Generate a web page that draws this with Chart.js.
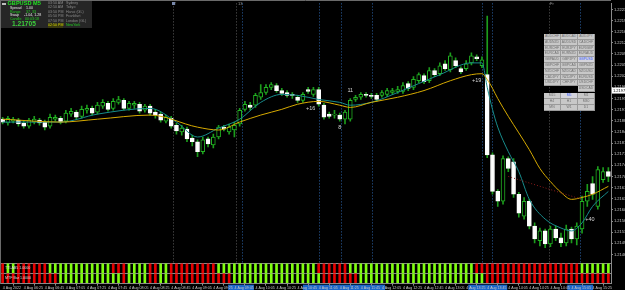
<!DOCTYPE html>
<html>
<head>
<meta charset="utf-8">
<script src="https://cdn.jsdelivr.net/npm/chart.js@4/dist/chart.umd.min.js"></script>
<style>
html,body{margin:0;padding:0;background:#000;overflow:hidden;}
#wrap{position:relative;width:625px;height:290px;overflow:hidden;}
#c{position:absolute;left:0;top:0;}
.t{position:absolute;font-family:"Liberation Sans",Arial,sans-serif;white-space:nowrap;line-height:1;}
.cell{position:absolute;width:16px;height:4.8px;background:#c8c8c8;border-right:1px solid #9a9a9a;border-bottom:1px solid #9a9a9a;font-family:"Liberation Sans",Arial,sans-serif;font-size:3.4px;color:#6e6e6e;text-align:center;line-height:4.8px;white-space:nowrap;overflow:hidden;}
</style>
</head>
<body>
<div id="wrap">
<canvas id="c" width="625" height="290"></canvas>
</div>
<script>
// ---------- DATA ----------
const opens = [
1.21885,1.21873,1.21879,1.21882,1.21873,1.21863,1.21876,1.21882,1.21876,1.21863,
1.21885,1.21888,1.21879,1.21901,1.21907,1.21894,1.21913,1.21919,1.21907,1.21926,
1.21935,1.21919,1.21938,1.21944,1.21919,1.21929,1.21932,1.21913,1.21926,1.21907,
1.21901,1.21879,1.21888,1.21866,1.21845,1.21854,1.21826,1.21814,1.21783,1.21823,
1.21804,1.21829,1.21860,1.21845,1.21851,1.21870,1.21916,1.21929,1.21929,1.21954,
1.21969,1.21985,1.21991,1.21975,1.21969,1.21963,1.21954,1.21944,1.21978,1.21963,
1.21978,1.21929,1.21901,1.21898,1.21898,1.21885,1.21885,1.21947,1.21954,1.21963,
1.21960,1.21960,1.21960,1.21963,1.21969,1.21972,1.21972,1.21997,1.21985,1.22006,
1.22022,1.22006,1.22038,1.22028,1.22059,1.22041,1.22069,1.22044,1.22044,1.22062,
1.22081,1.22053,1.22025,1.21773,1.21658,1.21627,1.21761,1.21751,1.21649,1.21580,
1.21627,1.21549,1.21503,1.21534,1.21493,1.21540,1.21512,1.21496,1.21540,1.21509,
1.21540,1.21627,1.21683,1.21611,1.21695,1.21720];
const highs = [
1.21891,1.21894,1.21891,1.21888,1.21879,1.21888,1.21894,1.21888,1.21882,1.21901,
1.21898,1.21894,1.21913,1.21919,1.21913,1.21926,1.21929,1.21926,1.21938,1.21947,
1.21941,1.21950,1.21957,1.21950,1.21941,1.21941,1.21938,1.21932,1.21932,1.21916,
1.21907,1.21898,1.21894,1.21873,1.21866,1.21860,1.21835,1.21820,1.21829,1.21829,
1.21838,1.21866,1.21866,1.21870,1.21876,1.21919,1.21941,1.21938,1.21966,1.21994,
1.21994,1.22000,1.21997,1.21982,1.21975,1.21969,1.21960,1.21969,1.21985,1.21985,
1.21985,1.21935,1.21907,1.21913,1.21904,1.21913,1.21950,1.21960,1.21969,1.21969,
1.21966,1.21966,1.21975,1.21982,1.21982,1.21988,1.22000,1.22003,1.22019,1.22031,
1.22028,1.22047,1.22044,1.22062,1.22069,1.22094,1.22078,1.22050,1.22069,1.22094,
1.22087,1.22081,1.22209,1.21779,1.21664,1.21770,1.21767,1.21761,1.21655,1.21639,
1.21633,1.21559,1.21543,1.21540,1.21549,1.21549,1.21527,1.21552,1.21546,1.21559,
1.21643,1.21680,1.21705,1.21736,1.21733,1.21733];
const lows = [
1.21870,1.21866,1.21873,1.21863,1.21857,1.21857,1.21870,1.21866,1.21851,1.21857,
1.21879,1.21870,1.21873,1.21894,1.21885,1.21888,1.21904,1.21898,1.21901,1.21919,
1.21910,1.21913,1.21932,1.21913,1.21913,1.21919,1.21904,1.21907,1.21898,1.21888,
1.21876,1.21873,1.21857,1.21838,1.21835,1.21814,1.21801,1.21767,1.21776,1.21798,
1.21795,1.21823,1.21848,1.21838,1.21829,1.21863,1.21910,1.21913,1.21922,1.21947,
1.21963,1.21978,1.21969,1.21960,1.21954,1.21950,1.21938,1.21938,1.21966,1.21957,
1.21926,1.21885,1.21888,1.21888,1.21879,1.21870,1.21879,1.21941,1.21947,1.21954,
1.21950,1.21941,1.21954,1.21957,1.21963,1.21966,1.21966,1.21975,1.21978,1.22000,
1.21997,1.22000,1.22019,1.22022,1.22038,1.22034,1.22047,1.22028,1.22038,1.22056,
1.22069,1.22047,1.21764,1.21649,1.21611,1.21618,1.21720,1.21639,1.21577,1.21571,
1.21540,1.21496,1.21487,1.21481,1.21484,1.21503,1.21484,1.21487,1.21496,1.21490,
1.21527,1.21611,1.21633,1.21602,1.21686,1.21689];
const closes = [
1.21876,1.21888,1.21885,1.21870,1.21863,1.21882,1.21885,1.21873,1.21860,1.21891,
1.21891,1.21876,1.21904,1.21910,1.21891,1.21916,1.21919,1.21904,1.21929,1.21938,
1.21916,1.21941,1.21947,1.21919,1.21935,1.21935,1.21910,1.21926,1.21904,1.21898,
1.21882,1.21891,1.21863,1.21848,1.21857,1.21823,1.21814,1.21783,1.21820,1.21807,
1.21829,1.21860,1.21854,1.21860,1.21866,1.21913,1.21932,1.21922,1.21960,1.21969,
1.21985,1.21994,1.21975,1.21966,1.21960,1.21960,1.21944,1.21963,1.21972,1.21978,
1.21932,1.21891,1.21894,1.21901,1.21885,1.21907,1.21944,1.21954,1.21963,1.21960,
1.21957,1.21947,1.21969,1.21975,1.21975,1.21978,1.21991,1.21982,1.22010,1.22025,
1.22003,1.22038,1.22025,1.22053,1.22044,1.22084,1.22053,1.22034,1.22059,1.22084,
1.22075,1.22072,1.21773,1.21658,1.21627,1.21761,1.21730,1.21649,1.21590,1.21627,
1.21549,1.21509,1.21534,1.21493,1.21540,1.21512,1.21496,1.21540,1.21509,1.21549,
1.21627,1.21658,1.21649,1.21727,1.21720,1.21705];

// fast (teal) and slow (yellow) moving averages, read at sampled candles
const tealIdx = [0,11,18,28,33,37,41,45,49,53,56,60,64,66,70,75,83,89,91,92,93,94,96,98,100,103,106,108,110,112,115];
const tealVal = [1.21876,1.21876,1.21901,1.21919,1.21876,1.21829,1.21857,1.21885,1.21938,1.21963,
1.21960,1.21947,1.21938,1.21929,1.21938,1.21969,1.22025,1.22062,1.22062,1.21985,
1.21916,1.21860,1.21783,1.21720,1.21633,1.21571,1.21543,1.21534,1.21559,1.21611,1.21658];
const yellowIdx = [0,11,18,28,37,41,45,49,53,56,60,64,66,70,75,80,85,89,91,92,93,94,96,98,100,102,104,106,108,110,112,115];
const yellowVal = [1.21885,1.21876,1.21885,1.21898,1.21860,1.21851,1.21876,1.21898,1.21916,1.21932,
1.21941,1.21929,1.21922,1.21938,1.21954,1.21975,1.22006,1.22025,1.22028,1.22010,
1.21982,1.21950,1.21894,1.21842,1.21789,1.21730,1.21689,1.21655,1.21633,1.21639,1.21649,1.21674];
const trendIdx = [96,110];
const trendVal = [1.21705,1.21633];

// bottom indicator rows: 1 = green, 0 = red
const row1States = [0,1,1,0,0,0,0,0,0,1, 1,1,1,1,1,1,1,1,1,1, 1,0,0,0,1,1,1,1,0,0, 1,1,0,0,0,0,0,0,0,0,
 0,1,1,1,1,1,1,1,1,1, 1,1,1,1,1,1,1,1,1,1, 0,0,0,0,0,0,1,1,1,1, 1,1,1,1,1,1,1,1,1,1,
 1,1,1,1,1,1,1,1,1,1, 0,0,0,0,0,0,0,0,0,0, 0,0,0,0,0,0,0,0,0,0, 1,1,1,1,1,1];
const row2States = [0,0,0,0,0,0,0,0,0,0, 0,1,1,1,1,1,1,1,1,1, 1,1,1,0,1,1,1,1,0,0, 1,1,0,0,0,0,0,0,0,0,
 0,0,0,0,1,1,1,1,1,1, 1,1,1,1,1,1,1,1,1,1, 1,0,0,0,0,0,0,0,1,1, 1,1,1,1,1,1,1,1,1,1,
 1,1,1,1,1,1,1,1,1,1, 1,1,0,0,0,0,0,0,0,0, 0,0,0,0,0,0,0,0,0,0, 0,0,0,0,0,0];

const tickLabels = ["4 Aug 2022","4 Aug 06:25","4 Aug 06:45","4 Aug 07:05","4 Aug 07:25","4 Aug 07:45",
"4 Aug 08:05","4 Aug 08:25","4 Aug 08:45","4 Aug 09:05","4 Aug 09:25","4 Aug 09:45","4 Aug 10:05",
"4 Aug 10:25","4 Aug 10:45","4 Aug 11:05","4 Aug 11:25","4 Aug 11:45","4 Aug 12:05","4 Aug 12:25",
"4 Aug 12:45","4 Aug 13:05","4 Aug 13:25","4 Aug 13:45","4 Aug 14:05","4 Aug 14:25","4 Aug 14:45",
"4 Aug 15:05","4 Aug 15:25"];
const priceTicks = [1.22230,1.22195,1.22160,1.22125,1.22090,1.22055,1.22020,1.21985,1.21950,1.21915,
1.21880,1.21845,1.21810,1.21775,1.21740,1.21705,1.21670,1.21635,1.21600,1.21565,1.21530,1.21495,1.21460];
const highlightPrice = 1.21975;
const Y_MAX = 1.22249, Y_MIN = 1.21368;

const annoIdx = [58.5,66,64,90,111.5];
const annoVal = [1.21919,1.21975,1.21860,1.22006,1.21571];
const annoText = ['+16','11','8','+19','+40'];
const blueLines = [45.4,60.1,64.2,70.1,91.0,92.9,109.6];
const grayLines = [32.3,44.3,103.7];
const timeBands = [[42.8,47.7],[57.0,72.6],[88.4,95.8],[107.2,112.1]];
const topLabelIdx = [32.7,45.1,104.3];
const topLabelText = ['T','13','Fr'];
const rowNames = ['TTLAB5 1.0000','MTF Bar 1.0000'];

const symbols = [["AUDCHF","AUDCAD","AUDJPY"],["AUDNZD","AUDUSD","CADCHF"],["EURCHF","EURJPY","EURGBP"],
["EURCAD","EURNZD","EURAUD"],["GBPAUD","GBPJPY","GBPUSD"],["GBPCHF","GBPCAD","GBPNZD"],
["NZDCHF","NZDCAD","NZDUSD"],["CADJPY","NZDJPY","EURUSD"],["USDJPY","CHFJPY","USDCHF"],[null,null,"USDCAD"]];
const timeframes = [["M15","M5","M1"],["H4","H1","M30"],["MN","W1","D1"]];
const sessTimes = ["03:50 AM","02:50 AM","03:50 PM","05:50 PM","07:50 PM","02:50 PM"];
const sessNames = ["Sydney","Tokyo","Hanoi (GL)","Frankfurt","London (GL)","NewYork"];

// ---------- BUILD ----------
const N = opens.length;
const categories = [];
for (let i = 0; i < N; i++) {
  const m = 6 * 60 + 5 + 5 * i;
  categories.push(String(Math.floor(m / 60)).padStart(2, '0') + ':' + String(m % 60).padStart(2, '0'));
}
function sparse(idx, val) { const a = new Array(N).fill(null); idx.forEach((k, j) => a[k] = val[j]); return a; }

const GREEN = '#1c9c1c';
const ROW1 = [11, 20], ROW2 = [1, 10], SEP = [20.5, 10.5];
const FONT = '"Liberation Sans", Arial, sans-serif';

const decor = {
  id: 'decor',
  beforeDraw(chart) {
    const { ctx, chartArea: a, scales: { x } } = chart;
    ctx.save();
    ctx.fillStyle = '#000';
    ctx.fillRect(0, 0, chart.width, chart.height);
    ctx.fillStyle = '#1b66c9';
    timeBands.forEach(([s, e]) => {
      const x0 = x.getPixelForValue(s), x1 = x.getPixelForValue(e);
      ctx.fillRect(x0, a.bottom + 1, x1 - x0, chart.height - a.bottom - 1);
    });
    ctx.restore();
  },
  beforeDatasetsDraw(chart) {
    const { ctx, chartArea: a, scales: { x, y2 } } = chart;
    const yb = y2.getPixelForValue(SEP[0]);
    ctx.save();
    ctx.lineWidth = 1;
    ctx.setLineDash([1, 2]);
    const vl = (arr, col) => {
      ctx.strokeStyle = col;
      arr.forEach(v => {
        const px = Math.round(x.getPixelForValue(v)) + 0.5;
        ctx.beginPath(); ctx.moveTo(px, a.top); ctx.lineTo(px, yb); ctx.stroke();
      });
    };
    vl(grayLines, '#5c5c5c');
    vl(blueLines, '#2c62a6');
    ctx.setLineDash([]);
    ctx.strokeStyle = '#8a8a8a';
    SEP.forEach(v => {
      const py = Math.round(y2.getPixelForValue(v)) + 0.5;
      ctx.beginPath(); ctx.moveTo(a.left, py); ctx.lineTo(a.right, py); ctx.stroke();
    });
    ctx.restore();
  },
  afterDraw(chart) {
    const { ctx, chartArea: a, scales: { x, y, y2 } } = chart;
    ctx.save();
    ctx.strokeStyle = '#6a6a6a'; ctx.lineWidth = 1;
    ctx.beginPath(); ctx.moveTo(0, 0.5); ctx.lineTo(a.right, 0.5); ctx.stroke();
    ctx.beginPath(); ctx.moveTo(0.5, 0); ctx.lineTo(0.5, a.bottom); ctx.stroke();
    ctx.fillStyle = '#d4d4d4';
    ctx.font = '5.5px ' + FONT;
    ctx.textAlign = 'center'; ctx.textBaseline = 'middle';
    annoText.forEach((t, j) => ctx.fillText(t, x.getPixelForValue(annoIdx[j]), y.getPixelForValue(annoVal[j])));
    ctx.fillStyle = '#9a9a9a';
    ctx.font = '4px ' + FONT;
    topLabelText.forEach((t, j) => ctx.fillText(t, x.getPixelForValue(topLabelIdx[j]), 3.5));
    ctx.fillStyle = '#7888aa';
    const mx = Math.round(x.getPixelForValue(grayLines[0]));
    ctx.fillRect(mx - 1, 2, 3, 3);
    ctx.fillStyle = '#dcdcdc';
    ctx.font = '3.6px ' + FONT;
    ctx.textAlign = 'left';
    ctx.fillText(rowNames[0], 5, y2.getPixelForValue((ROW1[0] + ROW1[1]) / 2));
    ctx.fillText(rowNames[1], 5, y2.getPixelForValue((ROW2[0] + ROW2[1]) / 2));
    const py = y.getPixelForValue(highlightPrice);
    ctx.fillStyle = '#ffffff';
    ctx.fillRect(a.right + 1, py - 3, 14, 6);
    ctx.fillStyle = '#000';
    ctx.font = '4px ' + FONT;
    ctx.fillText(highlightPrice.toFixed(5), a.right + 2, py + 0.3);
    ctx.restore();
  }
};

const lineDs = (data, color, dash) => ({
  type: 'line', data, borderColor: color, borderWidth: 1, pointRadius: 0, spanGaps: true,
  cubicInterpolationMode: 'monotone', borderDash: dash || [], fill: false, order: 1, yAxisID: 'y'
});
const rowDs = (states, band) => ({
  type: 'bar', data: states.map(() => band), backgroundColor: states.map(s => s ? '#80ff10' : '#e80000'),
  barThickness: 2, grouped: false, borderWidth: 0, order: 6, yAxisID: 'y2'
});

new Chart(document.getElementById('c'), {
  data: {
    labels: categories,
    datasets: [
      rowDs(row1States, ROW1),
      rowDs(row2States, ROW2),
      { type: 'bar', data: lows.map((l, i) => [l, highs[i]]), backgroundColor: GREEN, barThickness: 1,
        grouped: false, borderWidth: 0, order: 5, yAxisID: 'y' },
      { type: 'bar', data: opens.map((o, i) => [o, closes[i]]),
        backgroundColor: opens.map((o, i) => closes[i] < o ? '#ffffff' : '#000000'),
        borderColor: opens.map((o, i) => closes[i] < o ? '#ffffff' : '#22b422'),
        borderWidth: 1, borderSkipped: false, barThickness: 4, grouped: false, order: 4, yAxisID: 'y' },
      lineDs(sparse(trendIdx, trendVal), '#8c1c1c', [1, 2]),
      lineDs(sparse(yellowIdx, yellowVal), '#d6aa00'),
      lineDs(sparse(tealIdx, tealVal), '#178c8c')
    ]
  },
  options: {
    responsive: false, animation: false, devicePixelRatio: 1, events: [],
    layout: { padding: 0 },
    plugins: { legend: { display: false }, tooltip: { enabled: false } },
    scales: {
      x: {
        type: 'category', offset: true,
        grid: { display: true, drawOnChartArea: false, drawTicks: true, tickLength: 2, color: '#8a8a8a' },
        border: { display: true, color: '#8a8a8a' },
        ticks: { autoSkip: false, maxRotation: 0, minRotation: 0, padding: 0, align: 'start',
          color: '#c8c8c8', font: { size: 3.6, family: FONT },
          callback: (v, i) => i % 4 === 0 ? tickLabels[i / 4] : null }
      },
      y: {
        position: 'right', min: Y_MIN, max: Y_MAX,
        grid: { display: true, drawOnChartArea: false, tickLength: 2, color: '#8a8a8a' },
        border: { display: true, color: '#8a8a8a' },
        ticks: { color: '#c8c8c8', font: { size: 4, family: FONT }, padding: 1, callback: v => v.toFixed(5) },
        afterBuildTicks: s => { s.ticks = priceTicks.map(v => ({ value: v })); },
        afterFit: s => { s.width = 14; }
      },
      y2: { display: false, min: 0, max: 283 }
    }
  },
  plugins: [decor]
});

// ---------- HTML overlays (panels) ----------
const wrap = document.getElementById('wrap');
function box(x, y, w, h, bg) { const d = document.createElement('div'); d.style.cssText = `position:absolute;left:${x}px;top:${y}px;width:${w}px;height:${h}px;background:${bg};`; wrap.appendChild(d); return d; }
function T(x, y, s, size, color, bold, bg) {
  const d = document.createElement('div'); d.className = 't';
  d.style.left = x + 'px'; d.style.top = y + 'px'; d.style.fontSize = size + 'px'; d.style.color = color;
  if (bold) d.style.fontWeight = 'bold'; if (bg) d.style.background = bg;
  d.textContent = s; wrap.appendChild(d); return d;
}
box(1, 1, 91, 27, '#262626');
box(2, 3, 4, 2, '#bdbdbd');
T(7.5, 1.2, 'GBPUSD M5', 5.6, '#22e022', true);
T(10, 7.4, 'Spread', 3.6, '#e6e6e6'); T(26, 7.4, '1.00', 3.6, '#e6e6e6');
T(10, 10.8, 'Range', 3.6, '#22d022'); T(26, 10.8, '37, 33', 3.6, '#22d022');
T(10, 14.2, 'Swap', 3.6, '#e6e6e6'); T(24, 14.2, '-1.04, 1.28', 3.6, '#e6e6e6');
T(10, 17.6, 'Candle', 3.6, '#22d022'); T(25, 17.6, '00:03:18', 3.6, '#22d022');
T(12, 20.6, closes[N - 1].toFixed(5), 6.6, '#3ccf3c', true);
sessTimes.forEach((t, j) => {
  const last = j === sessTimes.length - 1;
  T(48, 1.8 + j * 4.5, t, 3.6, last ? '#d8d800' : '#8c8c8c', false, last ? '#3a3a10' : null);
  T(66, 1.8 + j * 4.5, sessNames[j], 3.6, last ? '#22d022' : '#8c8c8c');
});
function grid(rows, top, active) {
  rows.forEach((r, ri) => r.forEach((s, ci) => {
    if (!s) return;
    const d = document.createElement('div'); d.className = 'cell';
    d.style.left = (544 + ci * 17) + 'px'; d.style.top = (top + ri * 5.8) + 'px';
    if (s === active) { d.style.color = '#3a5cff'; d.style.background = '#d4d4dc'; }
    d.textContent = s; wrap.appendChild(d);
  }));
}
grid(symbols, 34, 'GBPUSD');
grid(timeframes, 93.3, 'M5');
</script>
</body>
</html>
